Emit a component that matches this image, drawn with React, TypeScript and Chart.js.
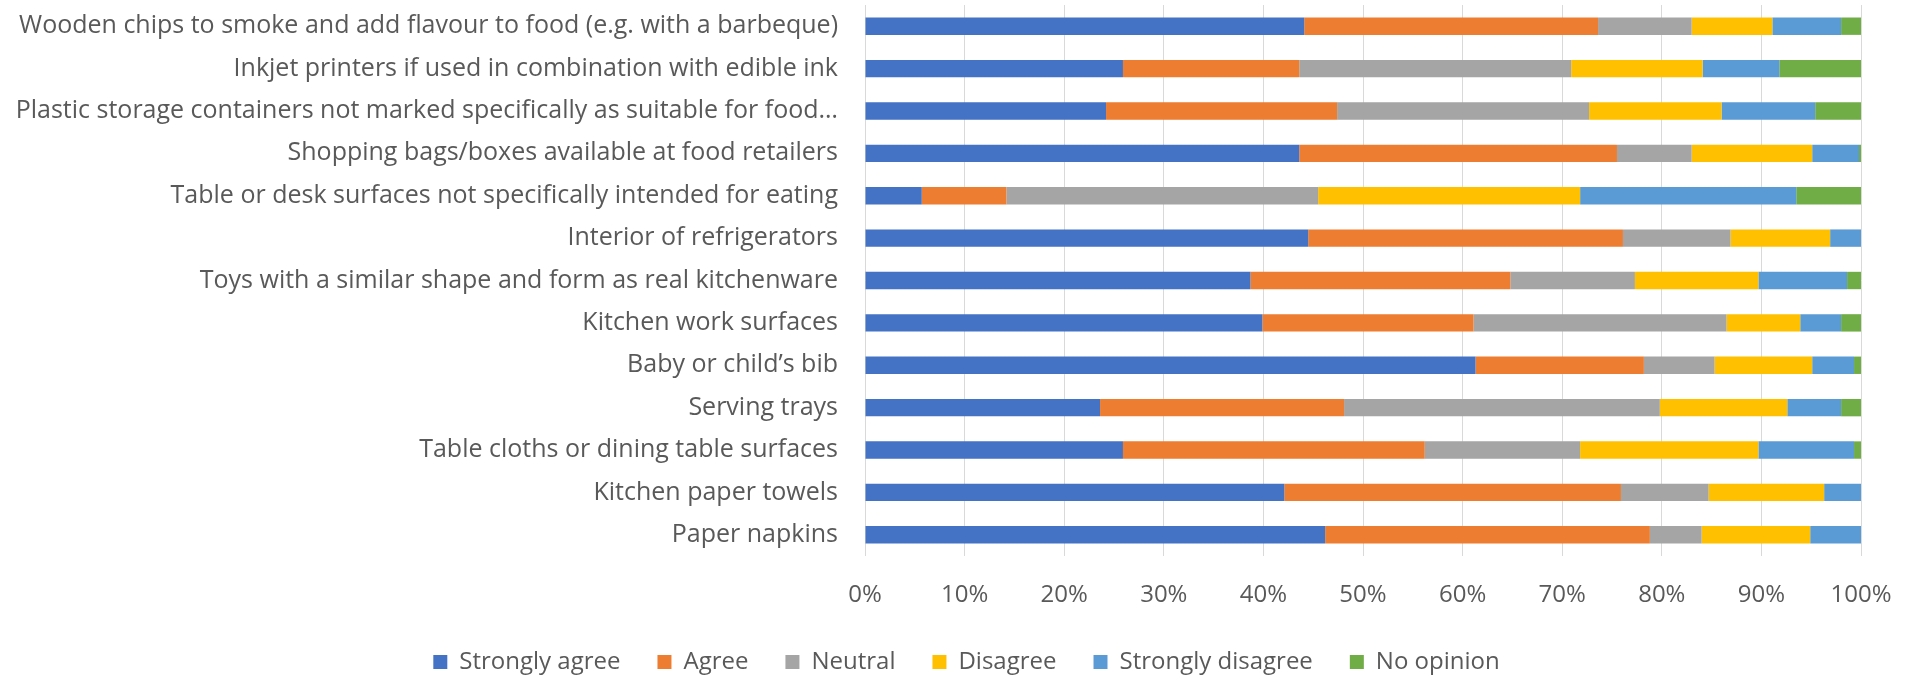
import React, { useEffect, useRef } from "react";
import { Chart, registerables } from "chart.js";

Chart.register(...registerables);

const categories = [
  "Wooden chips to smoke and add flavour to food (e.g. with a barbeque)",
  "Inkjet printers if used in combination with edible ink",
  "Plastic storage containers not marked specifically as suitable for food…",
  "Shopping bags/boxes available at food retailers",
  "Table or desk surfaces not specifically intended for eating",
  "Interior of refrigerators",
  "Toys with a similar shape and form as real kitchenware",
  "Kitchen work surfaces",
  "Baby or child’s bib",
  "Serving trays",
  "Table cloths or dining table surfaces",
  "Kitchen paper towels",
  "Paper napkins",
];

const seriesNames = ["Strongly agree", "Agree", "Neutral", "Disagree", "Strongly disagree", "No opinion"];
const seriesColors = ["#4472C4", "#ED7D31", "#A5A5A5", "#FFC000", "#5B9BD5", "#70AD47"];

const stronglyAgree = [44.1, 25.9, 24.2, 43.6, 5.7, 44.5, 38.7, 39.9, 61.3, 23.6, 25.9, 42.1, 46.2];
const agree = [29.5, 17.7, 23.2, 31.9, 8.5, 31.6, 26.1, 21.2, 16.9, 24.5, 30.3, 33.8, 32.6];
const neutral = [9.4, 27.3, 25.3, 7.5, 31.3, 10.8, 12.5, 25.4, 7.1, 31.7, 15.6, 8.8, 5.2];
const disagree = [8.1, 13.2, 13.3, 12.1, 26.3, 10.0, 12.4, 7.4, 9.8, 12.8, 17.9, 11.6, 10.9];
const stronglyDisagree = [6.9, 7.7, 9.4, 4.7, 21.7, 3.1, 8.9, 4.1, 4.2, 5.4, 9.6, 3.7, 5.1];
const noOpinion = [2.0, 8.2, 4.6, 0.2, 6.5, 0, 1.4, 2.0, 0.7, 2.0, 0.7, 0, 0];

const xTicks = [0, 10, 20, 30, 40, 50, 60, 70, 80, 90, 100];

const FONT = "'Open Sans', 'Liberation Sans', sans-serif";
const TEXT = "#595959";

const legendShift = {
  id: "legendShift",
  afterLayout(chart: any) {
    const lg = chart.legend;
    if (lg) {
      lg.left += 72;
    }
  },
};

export default function App() {
  const ref = useRef<HTMLCanvasElement | null>(null);

  useEffect(() => {
    const canvas = ref.current;
    if (!canvas) return;
    const allSeries = [stronglyAgree, agree, neutral, disagree, stronglyDisagree, noOpinion];
    const chart = new Chart(canvas, {
      type: "bar",
      data: {
        labels: categories,
        datasets: allSeries.map((d, i) => ({
          label: seriesNames[i],
          data: d,
          backgroundColor: seriesColors[i],
          borderWidth: 0,
          categoryPercentage: 1,
          barPercentage: 0.41,
        })),
      },
      options: {
        indexAxis: "y",
        responsive: false,
        animation: false,
        devicePixelRatio: 1,
        layout: { padding: { top: 5, right: 54, left: 0, bottom: 0 } },
        plugins: {
          tooltip: { enabled: false },
          legend: {
            position: "bottom",
            labels: {
              font: { family: FONT, size: 24 },
              color: TEXT,
              boxWidth: 14,
              boxHeight: 14,
              padding: 37,
            },
          },
        },
        scales: {
          x: {
            stacked: true,
            min: 0,
            max: 100,
            afterBuildTicks: (scale: any) => {
              scale.ticks = xTicks.map((v) => ({ value: v }));
            },
            afterFit: (scale: any) => {
              scale.height = 57;
              scale.paddingLeft = 0;
              scale.paddingRight = 0;
            },
            grid: { color: "#D9D9D9", lineWidth: 1, drawTicks: false, tickLength: 0 },
            border: { display: false },
            ticks: {
              padding: 25,
              font: { family: FONT, size: 24 },
              color: TEXT,
              callback: (v: any) => v + "%",
            },
          },
          y: {
            stacked: true,
            grid: { display: false, drawTicks: false, tickLength: 0 },
            border: { display: false },
            afterFit: (scale: any) => {
              scale.width = 865;
              scale.paddingTop = 0;
              scale.paddingBottom = 0;
            },
            ticks: {
              padding: 27,
              autoSkip: false,
              font: { family: FONT, size: 25 },
              color: TEXT,
            },
          },
        },
      },
      plugins: [legendShift],
    });
    return () => chart.destroy();
  }, []);

  return (
    <div style={{ position: "fixed", left: 0, top: 0, width: 1915, height: 684, background: "#fff" }}>
      <canvas ref={ref} width={1915} height={684} style={{ width: 1915, height: 684, display: "block" }} />
    </div>
  );
}
